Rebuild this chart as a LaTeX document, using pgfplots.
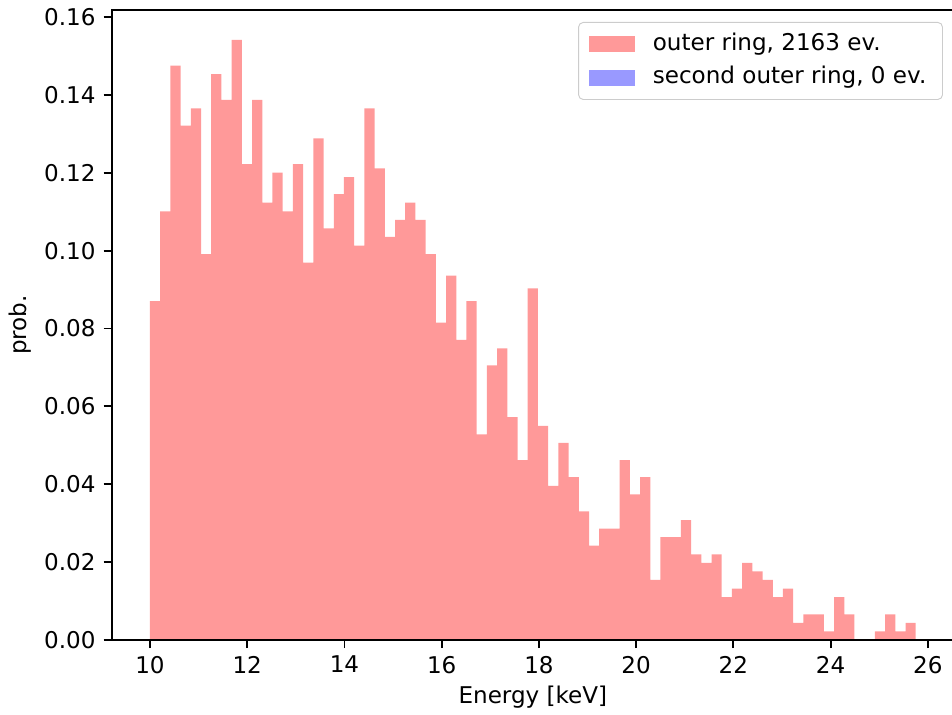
\documentclass[border=0pt]{standalone}
\usepackage{pgfplots}
\pgfplotsset{compat=1.18}
\usepackage{fontspec}
\setmainfont{DejaVu Sans}

\definecolor{histred}{rgb}{1,0.6,0.6}
\definecolor{histblue}{rgb}{0.6,0.6,1}

% Energy spectrum of the outer ring, normalised as a density.
% Columns: left bin edge [keV], density; the last row closes the final bin.
\pgfplotstableread{
x      y
10.00  0.0870
10.21  0.1101
10.42  0.1475
10.63  0.1321
10.84  0.1365
11.05  0.0991
11.26  0.1453
11.47  0.1387
11.68  0.1541
11.89  0.1222
12.10  0.1387
12.31  0.1123
12.52  0.1200
12.73  0.1101
12.94  0.1222
13.15  0.0969
13.36  0.1288
13.57  0.1057
13.78  0.1145
13.99  0.1189
14.20  0.1013
14.41  0.1365
14.62  0.1211
14.83  0.1035
15.04  0.1079
15.25  0.1123
15.46  0.1079
15.67  0.0991
15.88  0.0815
16.09  0.0936
16.30  0.0771
16.51  0.0870
16.72  0.0528
16.93  0.0705
17.14  0.0749
17.35  0.0572
17.56  0.0462
17.77  0.0903
17.98  0.0550
18.19  0.0396
18.40  0.0506
18.61  0.0418
18.82  0.0330
19.03  0.0242
19.24  0.0286
19.45  0.0286
19.66  0.0462
19.87  0.0374
20.08  0.0418
20.29  0.0154
20.50  0.0264
20.71  0.0264
20.92  0.0308
21.13  0.0220
21.34  0.0198
21.55  0.0220
21.76  0.0110
21.97  0.0132
22.18  0.0198
22.39  0.0176
22.60  0.0154
22.81  0.0110
23.02  0.0132
23.23  0.0044
23.44  0.0066
23.65  0.0066
23.86  0.0022
24.07  0.0110
24.28  0.0066
24.49  0.0000
24.70  0.0000
24.91  0.0022
25.12  0.0066
25.33  0.0022
25.54  0.0044
25.75  0.0000
}\outerring

\begin{document}
\begin{tikzpicture}
\begin{axis}[
  name=ax, at={(0,0)}, anchor=south west,
  scale only axis, width=365.3pt, height=273.2pt,
  xmin=9.2125, xmax=26.5375, ymin=0, ymax=0.1618,
  xtick={10,12,14,16,18,20,22,24,26},
  ytick={0,0.02,0.04,0.06,0.08,0.10,0.12,0.14,0.16},
  tick pos=left, tick align=outside, major tick length=3.5pt,
  every tick/.style={black, line width=0.8pt},
  axis line style={line width=0.8pt},
  axis on top,
  /pgf/number format/assume math mode=true,
  yticklabel style={/pgf/number format/.cd, fixed, fixed zerofill, precision=2},
  xticklabel style={/pgf/number format/.cd, fixed, precision=0},
  xlabel={Energy [keV]}, ylabel={prob.},
  xlabel style={at={(axis description cs:0.5,-0.0905)}, anchor=center},
  ylabel style={at={(axis description cs:-0.109,0.5)}, anchor=center},
  legend cell align=left,
  legend image code/.code={\path[#1, sharp corners, fill opacity=1] (0pt,-3.5pt) rectangle (20pt,3.5pt);},
  legend style={at={(axis description cs:1,1)}, anchor=north east,
    xshift=-4.8pt, yshift=-5.2pt,
    draw=black!20, rounded corners=2pt, fill=white, fill opacity=0.8, text opacity=1,
    inner xsep=4.5pt, inner ysep=2.2pt, row sep=0pt,
    /tikz/every odd column/.append style={column sep=5.2pt},
    nodes={inner xsep=2.5pt, inner ysep=2.25pt, text height=7.6pt, text depth=2.4pt}},
]
\addplot[ybar interval, fill=histred, draw=none] table[x=x, y=y] {\outerring};
\addlegendentry{outer ring, 2163 ev.}
\addlegendimage{fill=histblue, draw=none}
\addlegendentry{second outer ring, 0 ev.}
\end{axis}
\pgfresetboundingbox
\path[use as bounding box] ([shift={(-48.44pt,-32.53pt)}]ax.south west)
  rectangle ([shift={(-0.87pt,4.34pt)}]ax.north east);
\end{tikzpicture}
\end{document}
